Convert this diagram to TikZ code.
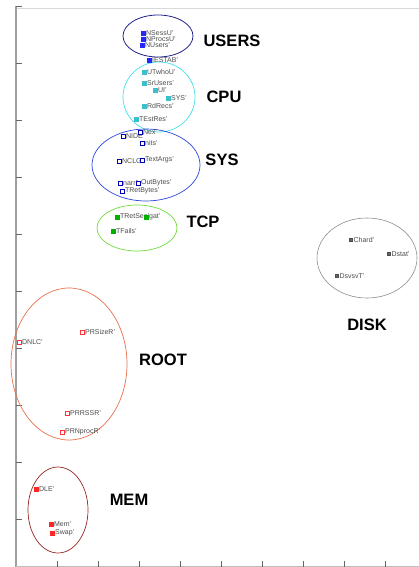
\documentclass[tikz,border=0pt]{standalone}
\usepackage{fontspec}
\setmainfont{Liberation Sans}
\usepackage{xcolor}
\definecolor{usersc}{RGB}{35,35,140}
\definecolor{cpuc}{RGB}{70,225,235}
\definecolor{sysc}{RGB}{40,70,215}
\definecolor{tcpc}{RGB}{110,220,60}
\definecolor{diskc}{RGB}{140,140,140}
\definecolor{rootc}{RGB}{232,112,78}
\definecolor{memc}{RGB}{150,40,35}
\definecolor{axisc}{RGB}{160,160,160}
\tikzset{
  grp/.style={font=\fontsize{16.5}{18}\selectfont\bfseries},
  lbl/.style={anchor=west, inner sep=0.6pt, text=black!70, font=\fontsize{7}{7}\selectfont},
  mk/.style={rectangle, minimum size=4pt, inner sep=0pt, line width=0.7pt},
  usersmk/.style={mk, fill=blue!85, draw=blue!85},
  cpumk/.style={mk, fill=cpuc!85!black, draw=cpuc!85!black},
  sysmk/.style={mk, fill=white, draw=blue!70!black},
  tcpmk/.style={mk, fill=green!70!black, draw=green!70!black},
  diskmk/.style={mk, fill=black!60, draw=black!70, minimum size=3pt},
  rootmk/.style={mk, fill=white, draw=red!80},
  memmk/.style={mk, fill=red!85, draw=red!85},
}
\newcommand{\datapt}[5]{\node[#4] (#1) at (#2,#3) {}; \node[lbl] (#1l) at (#1.east) {#5};}

\begin{document}
\begin{tikzpicture}[x=1pt, y=-1pt]
            \useasboundingbox (0,0) rectangle (419,567);

            % axes
            \coordinate (ytop) at (16,6);
            \coordinate (ybot) at (16,567);
            \draw[black!15, line width=0.6pt] (16,8) -- (419,8);
            \draw[axisc, line width=2pt] (ytop) -- (ybot);
            \foreach \k in {0,...,9}
                \draw[black!60, line width=0.6pt] (16,6+57*\k) -- (22,6+57*\k);
            \draw[black!25, line width=0.6pt] (16,566) -- (419,566);
            \foreach \k in {1,...,9}
                \draw[black!60, line width=0.6pt] (16+41*\k,561) -- (16+41*\k,567);

            % groups
            \draw[usersc, line width=0.8pt] (158,36) ellipse [x radius=35pt, y radius=21pt];
            \draw[cpuc, line width=0.7pt] (159,97) ellipse [x radius=36pt, y radius=35pt];
            \draw[sysc, line width=0.7pt] (146,165) ellipse [x radius=54pt, y radius=36pt];
            \draw[tcpc, line width=0.7pt] (137,228) ellipse [x radius=40pt, y radius=23pt];
            \draw[diskc, line width=0.6pt] (367,258) ellipse [x radius=50pt, y radius=40pt];
            \draw[rootc, line width=0.7pt] (69,364) ellipse [x radius=58pt, y radius=76pt];
            \draw[memc, line width=0.7pt] (58,510) ellipse [x radius=30pt, y radius=43pt];

            \node[grp] (users) at (232,41) {USERS};
            \node[grp] (cpu) at (224,97) {CPU};
            \node[grp] (sys) at (222,160) {SYS};
            \node[grp] (tcp) at (203,222) {TCP};
            \node[grp] (disk) at (367,325) {DISK};
            \node[grp] (root) at (163,360) {ROOT};
            \node[grp] (mem) at (129,500) {MEM};

            % USERS
            \datapt{u1}{143}{33}{usersmk}{NSessU'}
            \datapt{u2}{143}{39}{usersmk}{NProcsU'}
            \datapt{u3}{142}{45}{usersmk}{NUsers'}
            \datapt{u5}{149}{60}{usersmk}{IESTAB'}

            % CPU
            \datapt{c1}{144}{72}{cpumk}{UTwhoU'}
            \datapt{c2}{144}{83}{cpumk}{SrUsers'}
            \datapt{c3}{155}{90}{cpumk}{UI'}
            \datapt{c4}{168}{98}{cpumk}{SYS'}
            \datapt{c5}{144}{106}{cpumk}{RdRecs'}
            \datapt{c6}{136}{119}{cpumk}{TEstRes'}

            % SYS
            \datapt{s1}{123}{136}{sysmk}{NIDE'}
            \datapt{s2}{140}{132}{sysmk}{Nex'}
            \datapt{s3}{142}{143}{sysmk}{nits'}
            \datapt{s4}{119}{161}{sysmk}{NCLG'}
            \datapt{s5}{142}{160}{sysmk}{TextArgs'}
            \datapt{s6}{120}{183}{sysmk}{narrl'}
            \datapt{s7}{138}{183}{sysmk}{OutBytes'}
            \datapt{s8}{122}{191}{sysmk}{TRetBytes'}

            % TCP
            \datapt{t1}{117}{217}{tcpmk}{TRetSeg'}
            \datapt{t2}{146}{217}{tcpmk}{gat'}
            \datapt{t3}{113}{231}{tcpmk}{TFails'}

            % DISK
            \datapt{d1}{351}{240}{diskmk}{Chard'}
            \datapt{d2}{389}{254}{diskmk}{Dstat'}
            \datapt{d3}{337}{276}{diskmk}{DsvsvT'}

            % ROOT
            \datapt{r1}{19}{342}{rootmk}{DNLC'}
            \datapt{r2}{82}{332}{rootmk}{PRSizeR'}
            \datapt{r3}{67}{413}{rootmk}{PRRSSR'}
            \datapt{r4}{62}{432}{rootmk}{PRNprocR'}

            % MEM
            \datapt{m1}{36}{489}{memmk}{DLE'}
            \datapt{m2}{51}{524}{memmk}{Mem'}
            \datapt{m3}{52}{533}{memmk}{Swap'}
        \end{tikzpicture}
\end{document}
